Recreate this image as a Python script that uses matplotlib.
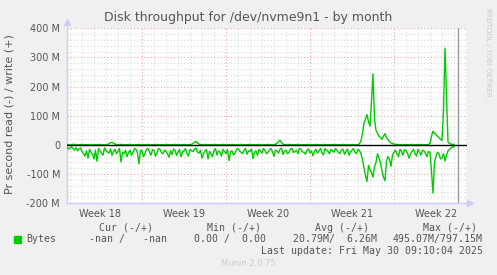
#!/usr/bin/env python3
# -*- coding: utf-8 -*-

import matplotlib
matplotlib.use('Agg')
import matplotlib.pyplot as plt
from matplotlib.patches import Rectangle

# samples every 3 hours, values in M (bytes/s)
step_hours = 3
read_values = [
    -8, -14, -10, -6, -12, -18, -9, -20, -14, -10, -22, -30, -38, -20, -45, -15, -25, -32, -48, -18,
    -56, -12, -20, -28, -35, -10, -18, -24, -28, -14, -36, -22, -15, -30, -22, -12, -58, -25, -30, -18,
    -40, -26, -18, -35, -25, -12, -15, -28, -65, -18, -20, -40, -30, -15, -12, -24, -35, -16, -20, -38,
    -28, -12, -15, -26, -30, -18, -22, -30, -42, -20, -33, -14, -18, -36, -25, -15, -40, -24, -20, -12,
    -30, -38, -15, -20, -22, -14, -10, -25, -28, -18, -45, -30, -20, -16, -48, -22, -30, -40, -18, -12,
    -35, -20, -25, -38, -15, -22, -30, -16, -54, -24, -20, -34, -28, -15, -12, -20, -25, -30, -18, -12,
    -32, -20, -22, -14, -47, -26, -20, -36, -15, -22, -28, -12, -18, -30, -25, -16, -12, -24, -39, -18,
    -20, -28, -15, -10, -33, -22, -18, -30, -25, -14, -12, -26, -22, -18, -30, -12, -15, -24, -25, -32,
    -18, -14, -28, -20, -37, -22, -15, -28, -20, -12, -28, -34, -12, -18, -22, -30, -15, -20, -25, -12,
    -18, -26, -30, -16, -15, -32, -22, -14, -35, -24, -18, -12, -25, -30, -15, -20, -30, -50, -80, -105,
    -125, -70, -85, -95, -110, -75, -60, -30, -45, -60, -90, -110, -123, -55, -40, -50, -73, -35, -25, -18,
    -30, -40, -15, -22, -35, -16, -20, -28, -45, -30, -22, -15, -30, -38, -15, -24, -35, -18, -20, -30,
    -40, -22, -25, -90, -165, -60, -40, -25, -30, -48, -45, -30, -55, -35, -20, -15, -10, -8, -5,
]
write_values = [
    1, 1, 1, 1, 2, 2, 1, 1, 1, 1, 2, 1, 1, 1, 1, 1, 2, 1, 1, 1,
    1, 1, 2, 1, 1, 1, 1, 2, 4, 8, 9, 6, 3, 1, 1, 1, 2, 1, 1, 1,
    1, 1, 2, 1, 1, 1, 1, 1, 2, 1, 1, 1, 1, 1, 2, 1, 1, 1, 1, 1,
    2, 1, 1, 1, 1, 1, 2, 1, 1, 1, 1, 1, 2, 1, 1, 1, 1, 1, 2, 1,
    1, 1, 1, 2, 5, 10, 12, 7, 3, 1, 1, 1, 2, 1, 1, 1, 1, 1, 2, 1,
    1, 1, 1, 1, 2, 1, 1, 1, 1, 1, 2, 1, 1, 1, 1, 1, 2, 1, 1, 1,
    1, 1, 2, 1, 1, 1, 1, 1, 2, 1, 1, 1, 1, 1, 2, 1, 1, 1, 1, 2,
    6, 12, 16, 8, 3, 1, 1, 1, 2, 1, 1, 1, 1, 1, 2, 1, 1, 1, 1, 1,
    2, 1, 1, 1, 1, 1, 2, 1, 1, 1, 1, 1, 2, 1, 1, 1, 1, 1, 2, 1,
    1, 1, 1, 1, 2, 1, 1, 1, 1, 1, 2, 1, 1, 1, 1, 4, 15, 40, 75, 90,
    104, 80, 64, 150, 244, 90, 50, 40, 30, 25, 20, 30, 39, 25, 18, 12, 7, 5, 3, 2,
    2, 1, 1, 1, 2, 1, 1, 1, 1, 1, 2, 1, 1, 1, 1, 1, 2, 1, 1, 1,
    1, 2, 5, 30, 47, 40, 35, 30, 25, 20, 15, 120, 332, 167, 10, 5, 3, 2, 2,
]

week_labels = ['Week 18', 'Week 19', 'Week 20', 'Week 21', 'Week 22']
week_starts = [149.4, 317.4, 485.4, 653.4]   # hours from graph start
now_hour = 782
end_hour = 800

y_ticks = [-200, -100, 0, 100, 200, 300, 400]
y_tick_labels = ['-200 M', '-100 M', '0', '100 M', '200 M', '300 M', '400 M']

legend_header = ['Cur (-/+)', 'Min (-/+)', 'Avg (-/+)', 'Max (-/+)']
legend_values = ['-nan /   -nan', '0.00 /  0.00', '20.79M/  6.26M', '495.07M/797.15M']
last_update = 'Last update: Fri May 30 09:10:04 2025'

W, H = 497, 275
GREEN = '#00CC00'
TXT = '#555555'


def fx(x):
    return x / W


def fy(y):
    return 1 - y / H


def main():
    fig = plt.figure(figsize=(W / 100, H / 100), dpi=100, facecolor='#F0F0F0')
    ax = fig.add_axes([fx(67), fy(203.3), 400 / W, 175 / H])
    ax.set_facecolor('white')

    hours = [i * step_hours for i in range(len(read_values))]

    # grid: daily minor, weekly major; 20M minor, 100M major
    d = week_starts[0] % 24
    while d < end_hour:
        major = any(abs(d - w) < 0.1 for w in week_starts)
        ax.axvline(d, color='#E8A8A8' if major else '#DADADA',
                   lw=0.8, ls=(0, (1, 2)), zorder=0)
        d += 24
    for v in range(-200, 401, 20):
        if v == 0:
            continue
        major = v % 100 == 0
        ax.axhline(v, color='#E8A8A8' if major else '#DADADA',
                   lw=0.8, ls=(0, (1, 2)), zorder=0)

    ax.plot(hours, read_values, color=GREEN, lw=1.0, zorder=3)
    ax.plot(hours, write_values, color=GREEN, lw=1.0, zorder=3)
    ax.axhline(0, color='black', lw=1.0, zorder=4)
    ax.axvline(now_hour, color='#999999', lw=1.0, zorder=2)

    ax.set_xlim(0, end_hour)
    ax.set_ylim(-200, 400)
    ax.set_yticks(y_ticks)
    ax.set_yticklabels(y_tick_labels)
    mids = [week_starts[0] - 84] + [w + 84 for w in week_starts]
    ax.set_xticks(mids)
    ax.set_xticklabels(week_labels)
    ax.tick_params(length=0, labelsize=7, labelcolor=TXT)
    ax.tick_params(axis='y', pad=5)
    ax.tick_params(axis='x', pad=4)

    for s in ['top', 'right']:
        ax.spines[s].set_visible(False)
    for s in ['left', 'bottom']:
        ax.spines[s].set_color('#CCCCFF')
        ax.spines[s].set_linewidth(1.0)
    ax.plot([0], [1.035], marker='^', color='#CCCCFF', ms=4,
            transform=ax.transAxes, clip_on=False)
    ax.plot([1.008], [0], marker='>', color='#CCCCFF', ms=4,
            transform=ax.transAxes, clip_on=False)

    fig.text(fx(248), fy(18), 'Disk throughput for /dev/nvme9n1 - by month',
             ha='center', va='center', fontsize=9, color=TXT)
    fig.text(fx(10), fy(114), 'Pr second read (-) / write (+)', rotation=90,
             ha='center', va='center', fontsize=8, color=TXT)
    fig.text(fx(488), fy(52), 'RRDTOOL / TOBI OETIKER', rotation=270,
             ha='center', va='center', fontsize=5, color='#C8C8C8')

    mono = dict(family='DejaVu Sans Mono', fontsize=7.15, color=TXT, va='center')
    for x, t in zip([99, 206.7, 315, 422.7], legend_header):
        fig.text(fx(x), fy(227.7), t, ha='left', **mono)
    fig.patches.append(Rectangle((fx(13.5), fy(243)), 7 / W, 7 / H,
                                 transform=fig.transFigure, color=GREEN))
    fig.text(fx(26.7), fy(239.3), 'Bytes', ha='left', **mono)
    for x, t in zip([89.3, 194.3, 293.3, 392.3], legend_values):
        fig.text(fx(x), fy(239.3), t, ha='left', **mono)
    fig.text(fx(261), fy(251), last_update, ha='left', **mono)
    fig.text(fx(248), fy(264), 'Munin 2.0.75', ha='center', va='center',
             fontsize=6, color='#CCCCCC')

    fig.savefig('out.png', dpi=100, facecolor=fig.get_facecolor())


if __name__ == '__main__':
    main()
